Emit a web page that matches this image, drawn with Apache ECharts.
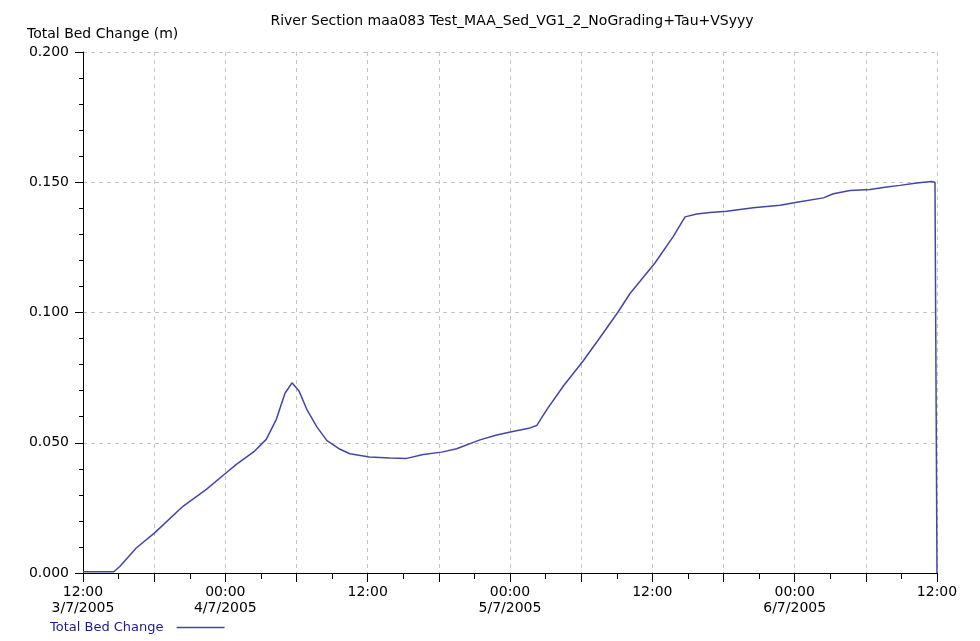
<!DOCTYPE html>
<html>
<head>
<meta charset="utf-8">
<script src="https://cdn.jsdelivr.net/npm/echarts@6/dist/echarts.min.js"></script>
<style>
html,body{margin:0;padding:0;background:#fff;}
#chart{width:980px;height:641px;}
</style>
</head>
<body>
<div id="chart"></div>
<script>
// Hours since 12:00 3/7/2005
const hours = [0, 2.6, 3.1, 4.49, 6.04, 8.43, 10.4, 12.08, 12.93, 14.47, 15.45, 16.3, 17.03, 17.62, 18.21, 18.89, 19.73, 20.57, 21.67, 22.5, 24.14, 25.88, 27.29, 28.69, 30.24, 31.5, 33.47, 34.88, 36.23, 37.69, 38.25, 39.09, 40.5, 42.18, 43.59, 45.08, 46.12, 48.22, 49.77, 50.76, 51.74, 52.86, 54.27, 56.51, 58.77, 60.31, 62.42, 63.26, 64.67, 66.35, 67.76, 68.88, 70.29, 71.55, 71.83, 71.9, 72];
const bedChange = [0.0005, 0.0005, 0.0025, 0.0096, 0.0154, 0.0256, 0.0321, 0.0385, 0.0417, 0.0468, 0.0513, 0.059, 0.069, 0.073, 0.0699, 0.0626, 0.056, 0.0508, 0.0475, 0.0458, 0.0445, 0.0441, 0.044, 0.0455, 0.0464, 0.0477, 0.0511, 0.053, 0.0543, 0.0557, 0.0566, 0.0626, 0.0718, 0.0815, 0.0904, 0.1, 0.1073, 0.119, 0.1292, 0.1367, 0.1378, 0.1384, 0.1389, 0.1402, 0.1412, 0.1424, 0.144, 0.1456, 0.1468, 0.1472, 0.1482, 0.1488, 0.1497, 0.1503, 0.15, 0.1502, 0];
const xTickLabels = ['12:00\n3/7/2005', '', '00:00\n4/7/2005', '', '12:00', '', '00:00\n5/7/2005', '', '12:00', '', '00:00\n6/7/2005', '', '12:00'];
const seriesName = 'Total Bed Change';
const yAxisTitle = 'Total Bed Change (m)';
const chartTitle = 'River Section maa083 Test_MAA_Sed_VG1_2_NoGrading+Tau+VSyyy';

const FONT = 'DejaVu Sans';
const chart = echarts.init(document.getElementById('chart'), null, {renderer: 'canvas'});
chart.setOption({
  backgroundColor: '#ffffff',
  animation: false,
  title: {
    text: chartTitle,
    left: 507, top: 9, textAlign: 'center',
    textStyle: {fontFamily: FONT, fontSize: 14, fontWeight: 'normal', color: '#000'}
  },
  graphic: [{
    type: 'text', left: 27, top: 27,
    style: {text: yAxisTitle, font: '14px "DejaVu Sans"', fill: '#000'}
  }],
  legend: {
    data: [seriesName],
    left: 45, top: 616,
    align: 'right',
    icon: 'rect', itemWidth: 48, itemHeight: 1.5,
    itemGap: 10,
    textStyle: {fontFamily: FONT, fontSize: 13, color: '#1a1a8c', padding: [0, 8, 0, 0]}
  },
  grid: {left: 83, right: 43, top: 52, bottom: 68, containLabel: false},
  xAxis: {
    type: 'value', min: 0, max: 72, interval: 6,
    axisLine: {show: true, lineStyle: {color: '#000', width: 1}},
    axisTick: {show: true, length: 9, lineStyle: {color: '#000'}},
    minorTick: {show: true, splitNumber: 2, length: 6, lineStyle: {color: '#000'}},
    splitLine: {show: true, lineStyle: {color: '#c4c4c4', type: [4, 4], width: 1}},
    axisLabel: {
      showMinLabel: true, showMaxLabel: true, margin: 11,
      fontFamily: FONT, fontSize: 14, color: '#000', lineHeight: 16,
      formatter: function (v) { return xTickLabels[Math.round(v / 6)] || ''; }
    }
  },
  yAxis: {
    type: 'value', min: 0, max: 0.2, interval: 0.05,
    axisLine: {show: true, lineStyle: {color: '#000', width: 1}},
    axisTick: {show: true, length: 8, lineStyle: {color: '#000'}},
    minorTick: {show: true, splitNumber: 5, length: 4, lineStyle: {color: '#000'}},
    splitLine: {show: true, lineStyle: {color: '#c4c4c4', type: [4, 4], width: 1}},
    axisLabel: {
      margin: 14, fontFamily: FONT, fontSize: 14, color: '#000',
      formatter: function (v) { return v.toFixed(3); }
    }
  },
  series: [{
    name: seriesName,
    type: 'line',
    data: hours.map((h, i) => [h, bedChange[i]]),
    showSymbol: false,
    symbol: 'none',
    lineStyle: {color: '#4545a8', width: 1.5},
    itemStyle: {color: '#4545a8'}
  }]
});
</script>
</body>
</html>
